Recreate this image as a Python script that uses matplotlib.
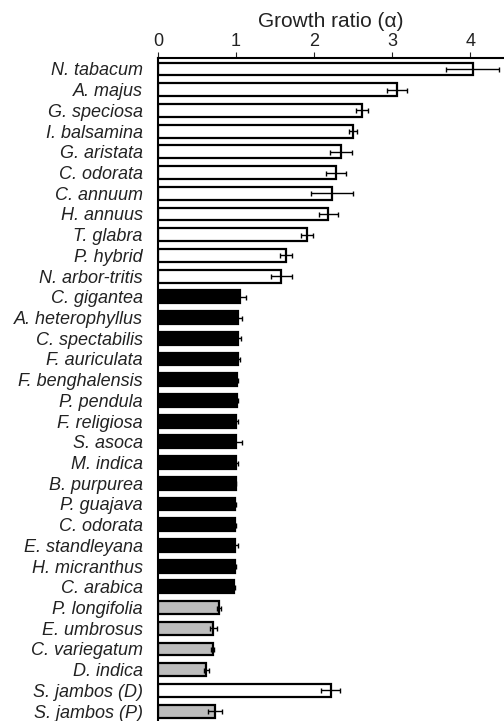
import numpy as np
import matplotlib
matplotlib.use("Agg")
import matplotlib.pyplot as plt

plt.rcParams["font.family"] = ["Liberation Sans", "DejaVu Sans"]

# ---------------------------------------------------------------------------
# data
# ---------------------------------------------------------------------------
species = [
    "N. tabacum", "A. majus", "G. speciosa", "I. balsamina", "G. aristata",
    "C. odorata", "C. annuum", "H. annuus", "T. glabra", "P. hybrid",
    "N. arbor-tritis",
    "C. gigantea", "A. heterophyllus", "C. spectabilis", "F. auriculata",
    "F. benghalensis", "P. pendula", "F. religiosa", "S. asoca", "M. indica",
    "B. purpurea", "P. guajava", "C. odorata", "E. standleyana",
    "H. micranthus", "C. arabica",
    "P. longifolia", "E. umbrosus", "C. variegatum", "D. indica",
    "S. jambos (D)", "S. jambos (P)",
]
ratio = [
    4.03, 3.06, 2.61, 2.50, 2.34, 2.28, 2.23, 2.18, 1.91, 1.64, 1.58,
    1.05, 1.03, 1.03, 1.02, 1.01, 1.01, 1.00, 1.00, 1.00, 0.995, 0.99,
    0.99, 0.99, 0.98, 0.97,
    0.78, 0.71, 0.70, 0.62, 2.21, 0.73,
]
err = [
    0.34, 0.13, 0.08, 0.05, 0.14, 0.13, 0.27, 0.12, 0.08, 0.08, 0.13,
    0.08, 0.04, 0.03, 0.03, 0.02, 0.02, 0.02, 0.08, 0.03, 0.01, 0.01,
    0.01, 0.03, 0.02, 0.02,
    0.03, 0.04, 0.02, 0.03, 0.12, 0.085,
]
group = ["up"] * 11 + ["same"] * 15 + ["down"] * 4 + ["up", "down"]

colors = {"up": "white", "same": "black", "down": "#bdbdbd"}

# ---------------------------------------------------------------------------
# plot
# ---------------------------------------------------------------------------
fig = plt.figure(figsize=(5.04, 7.21), dpi=100)
ax = fig.add_axes([0.3135, 0.0014, 0.6865, 0.9182])

y = np.arange(len(species))
ax.barh(y, ratio, height=0.62, color=[colors[g] for g in group],
        edgecolor="black", linewidth=1.6, zorder=2)
ax.errorbar(ratio, y, xerr=err, fmt="none", ecolor="black",
            elinewidth=1.0, capsize=1.8, capthick=1.0, zorder=3)

ax.set_xlim(0, 4.43)
ax.set_ylim(len(species) - 0.57, -0.53)
ax.set_yticks(y)
ax.set_yticklabels(species, fontsize=13, style="italic", color="#222222")
ax.tick_params(axis="y", length=0, pad=11)

ax.xaxis.tick_top()
ax.xaxis.set_label_position("top")
ax.set_xticks([0, 1, 2, 3, 4])
ax.tick_params(axis="x", direction="out", length=4, width=0.8,
               labelsize=13, pad=2, colors="#222222")
ax.set_xlabel("Growth ratio (\u03b1)", fontsize=15, labelpad=4, color="#222222")

for side in ["right", "bottom"]:
    ax.spines[side].set_visible(False)
ax.spines["left"].set_linewidth(1.5)
ax.spines["top"].set_linewidth(1.5)

fig.savefig("out.png", dpi=100)
